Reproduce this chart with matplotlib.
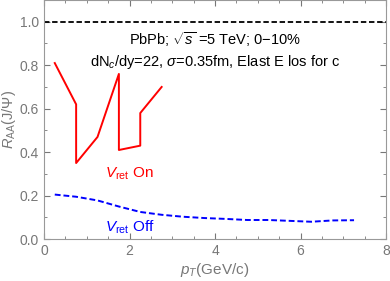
import matplotlib.pyplot as plt
from matplotlib.ticker import MultipleLocator

plt.rcParams['font.family'] = ['Liberation Sans', 'DejaVu Sans']
plt.rcParams['mathtext.fontset'] = 'custom'
plt.rcParams['mathtext.rm'] = 'Liberation Sans'
plt.rcParams['mathtext.it'] = 'Liberation Sans:italic'

# datos
pt_on = [0.25, 0.75, 0.75, 1.25, 1.75, 1.75, 2.25, 2.25, 2.75]
raa_on = [0.81, 0.62, 0.35, 0.47, 0.76, 0.41, 0.43, 0.58, 0.70]

pt_off = [0.25, 0.75, 1.25, 1.75, 2.25, 2.75, 3.25, 3.75, 4.25, 4.75, 5.25, 5.75, 6.25, 6.75, 7.25]
raa_off = [0.205, 0.195, 0.178, 0.150, 0.125, 0.112, 0.103, 0.097, 0.093, 0.088, 0.088, 0.084, 0.080, 0.086, 0.087]

gris = '#777777'

fig = plt.figure(figsize=(3.9, 2.81), dpi=100)
ax = fig.add_axes([0.113, 0.149, 0.877, 0.851])

ax.axhline(1.0, color='black', ls=(0, (3, 1.5)), lw=1.3)
ax.plot(pt_on, raa_on, color='#ff0000', lw=1.4)
ax.plot(pt_off, raa_off, color='#0000ff', lw=1.4, ls=(0, (3, 1.5)))

ax.set_xlim(0, 8)
ax.set_ylim(0, 1.1)
ax.xaxis.set_major_locator(MultipleLocator(2))
ax.xaxis.set_minor_locator(MultipleLocator(0.5))
ax.yaxis.set_major_locator(MultipleLocator(0.2))
ax.yaxis.set_minor_locator(MultipleLocator(0.1))
ax.yaxis.set_major_formatter(plt.FuncFormatter(lambda v, p: f"{v:.1f}"))
ax.tick_params(which='both', direction='in', top=True, right=True, colors=gris,
               labelsize=10, labelcolor=gris)
ax.tick_params(which='major', length=4)
ax.tick_params(which='minor', length=2.5)
for s in ax.spines.values():
    s.set_color('#999999')

ax.set_xlabel(r'$p_T$(GeV/c)', color=gris, fontsize=11, labelpad=2)
ax.set_ylabel(r'$R_{\rm AA}$(J/$\Psi$)', color=gris, fontsize=10.5, labelpad=1)

ax.text(4.0, 0.92, r'PbPb; $\sqrt{s}$ =5 TeV; 0$-$10%', ha='center', va='center', fontsize=10.5)
ax.text(4.0, 0.815, r'dN$_c$/dy=22, $\sigma$=0.35fm, Elast E los for c', ha='center', va='center', fontsize=10.5)
ax.text(2.0, 0.30, r'$V_{\rm ret}$ On', color='#ff0000', ha='center', va='center', fontsize=11)
ax.text(2.0, 0.055, r'$V_{\rm ret}$ Off', color='#0000ff', ha='center', va='center', fontsize=11)

fig.savefig('out.png', dpi=100)
